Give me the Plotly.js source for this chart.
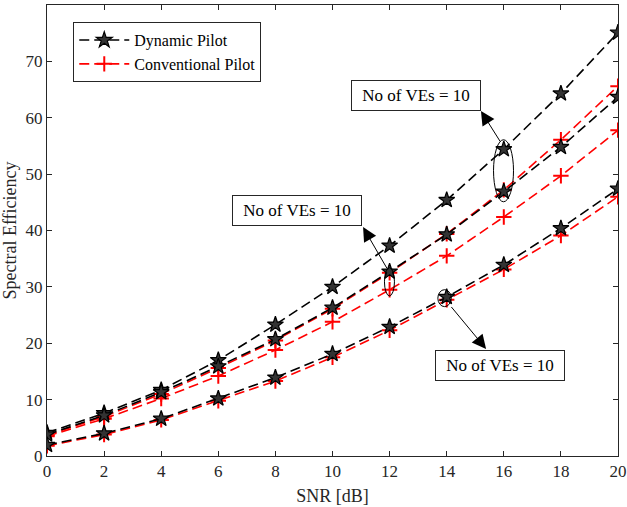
<!DOCTYPE html>
<html>
<head>
<meta charset="utf-8">
<script src="https://cdn.plot.ly/plotly-3.0.1.min.js"></script>
<style>html,body{margin:0;padding:0;background:#fff;}#chart{width:627px;height:507px;}</style>
</head>
<body>
<div id="chart"></div>
<script>
const snr = [0, 2, 4, 6, 8, 10, 12, 14, 16, 18, 20];
const dynamic1 = [4.1, 7.6, 11.7, 17.0, 23.3, 30.0, 37.3, 45.4, 54.4, 64.3, 75.1];
const dynamic2 = [3.8, 7.2, 11.3, 15.9, 20.7, 26.3, 32.7, 39.3, 46.9, 54.8, 63.7];
const dynamic3 = [1.95, 4.0, 6.6, 10.2, 13.9, 18.1, 22.9, 28.2, 33.9, 40.4, 47.4];
const conventional1 = [3.7, 7.0, 11.0, 15.6, 20.5, 26.1, 32.5, 39.4, 47.2, 56.1, 65.6];
const conventional2 = [3.5, 6.6, 10.2, 14.2, 18.8, 23.8, 29.5, 35.5, 42.4, 49.7, 57.8];
const conventional3 = [1.8, 3.8, 6.4, 9.8, 13.3, 17.5, 22.3, 27.7, 33.1, 39.1, 46.0];
const seriesNames = ['Dynamic Pilot', 'Conventional Pilot'];
const annotText = 'No of VEs = 10';
const xTicks = [0, 2, 4, 6, 8, 10, 12, 14, 16, 18, 20];
const yTicks = [0, 10, 20, 30, 40, 50, 60, 70, 80];

const serif = 'Liberation Serif';
const dashPat = '10px,5px';

function dyn(y, show) {
  return {
    x: snr, y: y, type: 'scatter', mode: 'lines+markers',
    name: seriesNames[0], legendgroup: 'd', showlegend: show,
    line: {color: '#000', width: 1.6, dash: dashPat},
    marker: {symbol: 'star', size: 12, color: '#333', line: {color: '#000', width: 1.2}}
  };
}
function conv(y, show) {
  return {
    x: snr, y: y, type: 'scatter', mode: 'lines+markers',
    name: seriesNames[1], legendgroup: 'c', showlegend: show,
    line: {color: '#ff0000', width: 1.6, dash: dashPat},
    marker: {symbol: 'cross-thin', size: 11, color: '#ff0000', line: {color: '#ff0000', width: 2}}
  };
}

const data = [
  conv(conventional1, false), conv(conventional2, true), conv(conventional3, false),
  dyn(dynamic1, true), dyn(dynamic2, false), dyn(dynamic3, false)
];

function box(x, y) {
  return {x: x, y: y, xref: 'x', yref: 'y', text: annotText, showarrow: false,
    font: {family: serif, size: 17, color: '#000'},
    bgcolor: '#fff', bordercolor: '#262626', borderwidth: 1, borderpad: 5,
    width: 118, height: 19};
}
function arrow(tx, ty, hx, hy) {
  return {x: hx, y: hy, ax: tx, ay: ty, xref: 'x', yref: 'y', axref: 'x', ayref: 'y',
    text: '', showarrow: true, arrowhead: 2, arrowsize: 2.8, arrowwidth: 1, arrowcolor: '#000'};
}
function ell(x0, x1, y0, y1) {
  return {type: 'circle', xref: 'x', yref: 'y', x0: x0, x1: x1, y0: y0, y1: y1,
    line: {color: '#000', width: 1}};
}

const layout = {
  width: 627, height: 507,
  margin: {l: 47, r: 9, t: 5, b: 51},
  paper_bgcolor: '#fff', plot_bgcolor: '#fff',
  font: {family: serif, size: 16, color: '#262626'},
  showlegend: true,
  legend: {x: 0.046, y: 0.962, xanchor: 'left', yanchor: 'top', bgcolor: '#fff',
    bordercolor: '#262626', borderwidth: 1, font: {family: serif, size: 16, color: '#000'},
    traceorder: 'reversed', tracegroupgap: 0, itemwidth: 50},
  xaxis: {range: [0, 20], tickvals: xTicks, ticktext: xTicks.map(String), ticks: 'inside', ticklen: 5,
    tickcolor: '#262626', showline: true, linecolor: '#262626', linewidth: 1, mirror: 'ticks',
    showgrid: false, zeroline: false, tickfont: {family: serif, size: 17, color: '#262626'},
    title: {text: 'SNR [dB]', font: {family: serif, size: 18, color: '#262626'}, standoff: 8}},
  yaxis: {range: [0, 80], tickvals: yTicks, ticktext: yTicks.map(String), ticks: 'inside', ticklen: 5,
    tickcolor: '#262626', showline: true, linecolor: '#262626', linewidth: 1, mirror: 'ticks',
    showgrid: false, zeroline: false, tickfont: {family: serif, size: 17, color: '#262626'},
    title: {text: 'Spectral Efficiency', font: {family: serif, size: 18, color: '#262626'}, standoff: 6}},
  shapes: [
    ell(15.64, 16.34, 45.1, 56.1),
    ell(11.82, 12.17, 28.4, 33.4),
    ell(13.69, 14.16, 26.5, 29.5)
  ],
  annotations: [
    box(12.92, 64.0),
    box(8.75, 43.6),
    box(15.88, 16.07),
    arrow(15.91, 55.5, 15.2, 61.2),
    arrow(11.94, 33.0, 11.07, 40.6),
    arrow(14.12, 26.7, 15.38, 19.0)
  ]
};

Plotly.newPlot('chart', data, layout, {displayModeBar: false, staticPlot: true});
</script>
</body>
</html>
